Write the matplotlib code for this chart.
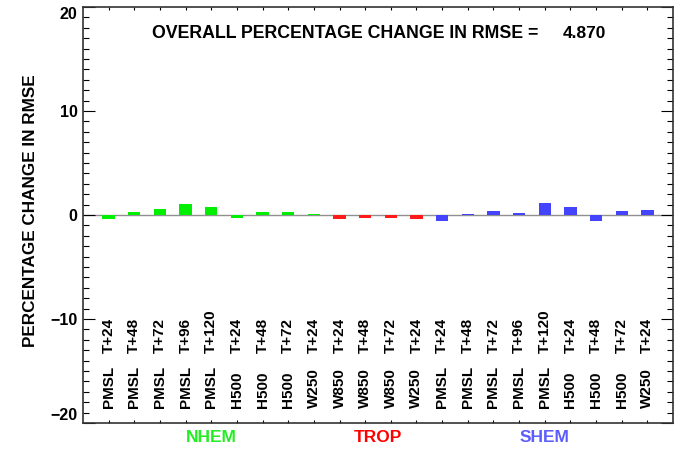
import numpy as np
import matplotlib
matplotlib.use('Agg')
import matplotlib.pyplot as plt
from matplotlib.ticker import MultipleLocator

plt.rcParams['font.family'] = ['Liberation Sans', 'DejaVu Sans']
plt.rcParams['font.weight'] = 'bold'
plt.rcParams['axes.labelweight'] = 'bold'

# fields and forecast ranges, in the order drawn
fields = ['PMSL', 'PMSL', 'PMSL', 'PMSL', 'PMSL', 'H500', 'H500', 'H500', 'W250',
          'W850', 'W850', 'W850', 'W250',
          'PMSL', 'PMSL', 'PMSL', 'PMSL', 'PMSL', 'H500', 'H500', 'H500', 'W250']
leads = ['T+24', 'T+48', 'T+72', 'T+96', 'T+120', 'T+24', 'T+48', 'T+72', 'T+24',
         'T+24', 'T+48', 'T+72', 'T+24',
         'T+24', 'T+48', 'T+72', 'T+96', 'T+120', 'T+24', 'T+48', 'T+72', 'T+24']
# percentage change in rmse per score
pct_change = [-0.35, 0.26, 0.55, 1.1, 0.8, -0.32, 0.32, 0.26, 0.06,
              -0.39, -0.26, -0.26, -0.39,
              -0.55, 0.1, 0.42, 0.2, 1.17, 0.8, -0.55, 0.42, 0.45]
regions = ['NHEM', 'TROP', 'SHEM']
region_sizes = [9, 4, 9]
overall = 4.870

bar_cols = {'NHEM': '#00ee00', 'TROP': '#ff1a1a', 'SHEM': '#4444ff'}
txt_cols = {'NHEM': '#22ee22', 'TROP': '#ff0000', 'SHEM': '#5c5cff'}

fig = plt.figure(figsize=(6.76, 4.51), dpi=100)
ax = fig.add_axes([83 / 676, 28 / 451, 590 / 676, 416 / 451])

x = np.arange(1, len(pct_change) + 1)
cols = []
for reg, n in zip(regions, region_sizes):
    cols += [bar_cols[reg]] * n

ax.axhline(0, color='#909090', lw=1, zorder=1)
ax.bar(x, pct_change, width=0.48, color=cols, zorder=2)

ax.set_xlim(0, 23)
ax.set_ylim(-20, 20)
ax.yaxis.set_major_locator(MultipleLocator(10))
ax.yaxis.set_minor_locator(MultipleLocator(1))
ax.set_xticks(x)
ax.set_xticklabels([])
ax.tick_params(axis='y', which='major', direction='in', length=8.5, width=0.8,
               right=True, labelsize=11.5, pad=4)
ax.tick_params(axis='y', which='minor', direction='in', length=4.3, width=0.8, right=True)
ax.tick_params(axis='x', which='major', direction='in', length=2.5, width=0.8, top=True)
for s in ax.spines.values():
    s.set_linewidth(1.2)
    s.set_color('#333333')

# IDL style: end labels kept inside the axis range
ax.figure.canvas.draw()
for t in ax.get_yticklabels():
    if t.get_text() == '20':
        t.set_va('top')
    elif t.get_text() in ('\u221220', '-20'):
        t.set_va('bottom')

ax.set_ylabel('PERCENTAGE CHANGE IN RMSE', fontsize=12.3)
ax.yaxis.set_label_coords(-0.076, 0.51)

for xi, f, l in zip(x, fields, leads):
    ax.text(xi, -18.56, f, rotation=90, ha='center', va='bottom', fontsize=11)
    ax.text(xi, -13.27, l, rotation=90, ha='center', va='bottom', fontsize=11)

start = 1
for reg, n in zip(regions, region_sizes):
    mid = start + (n - 1) / 2
    ax.text(mid, -21.44, reg, color=txt_cols[reg], ha='center', va='center',
            fontsize=12.5, clip_on=False)
    start += n

ax.text(17.74, 17.5, 'OVERALL PERCENTAGE CHANGE IN RMSE =', ha='right', va='center', fontsize=12.8)
ax.text(18.69, 17.5, '%.3f' % overall, ha='left', va='center', fontsize=12.5)

plt.savefig('out.png', dpi=100)
